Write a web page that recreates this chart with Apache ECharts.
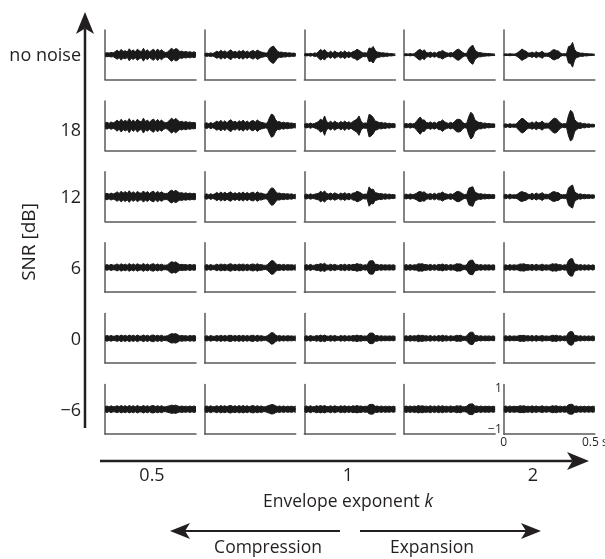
<!DOCTYPE html>
<html>
<head>
<meta charset="utf-8">
<script src="https://cdn.jsdelivr.net/npm/echarts@6/dist/echarts.min.js"></script>
<style>
  html, body { margin: 0; padding: 0; background: #fff; }
  #chart { width: 605px; height: 559px; }
</style>
</head>
<body>
<div id="chart"></div>
<script>
// time of each envelope sample (s)
const timeS = [0, 0.0111, 0.0222, 0.0333, 0.0444, 0.0556, 0.0667, 0.0778, 0.0889, 0.1,
  0.1111, 0.1222, 0.1333, 0.1444, 0.1556, 0.1667, 0.1778, 0.1889, 0.2, 0.2111,
  0.2222, 0.2333, 0.2444, 0.2556, 0.2667, 0.2778, 0.2889, 0.3, 0.3111, 0.3222,
  0.3333, 0.3444, 0.3556, 0.3667, 0.3778, 0.3889, 0.4, 0.4111, 0.4222, 0.4333,
  0.4444, 0.4556, 0.4667, 0.4778, 0.4889, 0.5];

const snrLabels = ['no noise', '18', '12', '6', '0', '\u22126'];
const kLabels = ['0.5', '1', '2'];

// waveform envelope (peak amplitude x 0.01), drawn as +/- band
// one row per SNR, one list per exponent k (0.5 ... 2)
const ampNoNoise = [
  [7, 10, 8, 11, 9, 15, 22, 14, 26, 16, 20, 13, 29, 17, 23, 14, 27, 19, 15, 31, 16, 24, 13, 21, 27, 15, 28, 17, 24, 15, 11, 13, 24, 32, 22, 30, 26, 15, 18, 13, 16, 12, 15, 11, 14, 10],
  [5, 8, 6, 9, 6, 11, 17, 12, 22, 13, 19, 11, 18, 24, 12, 17, 11, 20, 13, 22, 12, 18, 11, 17, 21, 13, 23, 17, 13, 11, 8, 9, 28, 38, 42, 30, 17, 12, 13, 10, 11, 8, 10, 7, 8, 6],
  [3, 6, 4, 7, 4, 9, 7, 16, 26, 18, 25, 13, 10, 17, 9, 18, 11, 9, 16, 10, 19, 9, 14, 8, 16, 18, 27, 21, 15, 8, 10, 7, 33, 30, 40, 22, 13, 12, 9, 10, 7, 8, 5, 6, 4, 4],
  [3, 5, 2, 6, 3, 5, 13, 22, 26, 17, 24, 11, 9, 13, 7, 12, 7, 14, 15, 21, 14, 10, 7, 11, 8, 16, 24, 27, 19, 11, 6, 7, 28, 40, 46, 24, 15, 10, 10, 7, 7, 5, 6, 4, 4, 3],
  [2, 4, 2, 5, 3, 2, 5, 11, 19, 28, 21, 17, 9, 8, 13, 7, 15, 9, 11, 17, 8, 7, 8, 13, 22, 25, 20, 18, 9, 4, 5, 4, 40, 42, 60, 26, 13, 11, 7, 8, 5, 6, 4, 4, 3, 3],
];
const amp18 = [
  [12, 17, 11, 18, 13, 18, 27, 17, 31, 19, 26, 19, 34, 18, 28, 17, 31, 22, 18, 36, 20, 27, 17, 26, 32, 19, 30, 20, 27, 18, 14, 17, 28, 36, 27, 35, 26, 18, 21, 16, 20, 15, 18, 14, 16, 12],
  [10, 14, 9, 15, 10, 15, 22, 16, 26, 15, 24, 14, 23, 29, 16, 22, 14, 24, 17, 27, 15, 23, 14, 22, 25, 16, 28, 20, 16, 14, 11, 13, 38, 56, 51, 30, 18, 20, 14, 17, 13, 15, 12, 13, 10, 11],
  [7, 11, 8, 13, 8, 11, 15, 20, 32, 24, 47, 19, 14, 21, 13, 22, 15, 12, 20, 14, 23, 13, 19, 12, 20, 26, 32, 47, 22, 11, 13, 12, 55, 50, 40, 22, 20, 14, 16, 12, 14, 10, 12, 9, 10, 8],
  [7, 11, 7, 12, 8, 10, 19, 32, 42, 27, 28, 15, 13, 18, 12, 17, 11, 19, 20, 28, 19, 14, 11, 16, 12, 20, 30, 31, 28, 15, 10, 12, 44, 65, 55, 28, 21, 15, 16, 11, 13, 9, 11, 8, 9, 7],
  [6, 9, 5, 10, 6, 8, 7, 17, 28, 36, 31, 21, 13, 12, 18, 11, 20, 13, 15, 22, 12, 12, 11, 19, 30, 36, 34, 23, 13, 8, 10, 8, 50, 75, 65, 30, 19, 13, 14, 9, 11, 7, 9, 6, 7, 5],
];
const amp12 = [
  [12, 16, 11, 17, 12, 16, 23, 15, 26, 17, 24, 16, 28, 16, 23, 15, 25, 18, 16, 27, 17, 24, 15, 22, 26, 16, 25, 17, 23, 16, 14, 16, 26, 31, 24, 30, 23, 17, 19, 15, 18, 14, 17, 13, 16, 12],
  [9, 13, 8, 14, 9, 13, 20, 13, 22, 14, 21, 13, 19, 23, 13, 19, 12, 20, 14, 22, 13, 20, 13, 19, 21, 14, 23, 16, 17, 13, 11, 13, 30, 42, 40, 26, 16, 17, 13, 15, 12, 14, 11, 13, 9, 11],
  [8, 12, 8, 13, 9, 11, 14, 16, 26, 19, 27, 15, 12, 17, 11, 18, 13, 10, 17, 12, 19, 11, 16, 10, 17, 18, 26, 22, 17, 10, 12, 11, 47, 34, 36, 19, 17, 13, 15, 11, 13, 10, 12, 9, 10, 8],
  [8, 12, 8, 13, 9, 11, 15, 22, 25, 20, 23, 13, 11, 15, 10, 16, 10, 16, 16, 22, 15, 12, 10, 14, 10, 17, 24, 25, 20, 13, 9, 11, 40, 45, 47, 22, 17, 12, 14, 10, 12, 9, 11, 8, 10, 7],
  [7, 11, 6, 12, 7, 9, 8, 13, 21, 24, 20, 18, 11, 10, 16, 9, 17, 11, 13, 19, 11, 11, 10, 15, 22, 24, 20, 19, 11, 8, 10, 8, 42, 50, 56, 24, 16, 11, 13, 9, 11, 8, 10, 7, 9, 6],
];
const amp6 = [
  [10, 14, 10, 15, 11, 12, 17, 11, 18, 12, 16, 11, 19, 12, 17, 11, 18, 13, 12, 19, 12, 17, 11, 16, 18, 12, 17, 12, 16, 11, 11, 13, 22, 28, 24, 27, 20, 13, 15, 13, 14, 11, 15, 11, 14, 11],
  [10, 14, 10, 14, 10, 11, 16, 11, 17, 12, 16, 11, 16, 18, 11, 16, 11, 17, 12, 17, 11, 16, 11, 15, 17, 12, 18, 13, 14, 11, 10, 13, 24, 33, 32, 20, 13, 15, 11, 15, 11, 14, 12, 13, 11, 13],
  [10, 14, 10, 15, 10, 11, 15, 14, 19, 15, 20, 12, 11, 16, 11, 15, 11, 10, 15, 11, 16, 10, 15, 11, 15, 14, 19, 15, 16, 10, 13, 11, 30, 33, 32, 15, 15, 11, 14, 11, 13, 11, 13, 11, 13, 10],
  [10, 14, 10, 14, 10, 13, 12, 18, 17, 18, 14, 14, 11, 15, 10, 14, 10, 15, 13, 17, 12, 14, 10, 14, 11, 13, 18, 17, 17, 11, 10, 13, 30, 35, 35, 16, 15, 11, 14, 10, 13, 11, 13, 10, 13, 10],
  [10, 13, 9, 14, 10, 13, 11, 12, 17, 16, 18, 13, 14, 11, 15, 10, 15, 11, 12, 16, 11, 13, 11, 13, 18, 16, 18, 13, 14, 10, 13, 11, 34, 42, 42, 17, 15, 11, 14, 10, 13, 10, 13, 9, 13, 9],
];
const amp0 = [
  [10, 14, 10, 14, 10, 11, 15, 10, 16, 11, 15, 10, 16, 11, 15, 10, 16, 11, 11, 16, 11, 15, 10, 15, 16, 11, 15, 11, 15, 10, 11, 13, 19, 23, 21, 23, 18, 12, 14, 12, 13, 10, 14, 11, 14, 10],
  [9, 13, 9, 14, 10, 10, 14, 10, 15, 10, 14, 10, 14, 15, 10, 14, 10, 15, 10, 15, 10, 14, 10, 14, 15, 10, 15, 11, 13, 10, 9, 13, 20, 28, 26, 17, 11, 14, 10, 13, 10, 13, 11, 12, 10, 12],
  [9, 13, 9, 14, 10, 10, 14, 11, 16, 12, 16, 11, 10, 14, 10, 14, 10, 9, 14, 10, 14, 9, 13, 10, 14, 12, 16, 12, 14, 10, 12, 10, 24, 26, 25, 13, 14, 10, 13, 10, 12, 10, 12, 10, 12, 9],
  [9, 13, 9, 14, 10, 13, 11, 16, 13, 15, 12, 13, 10, 14, 9, 13, 9, 14, 11, 15, 11, 13, 9, 13, 10, 11, 15, 13, 15, 10, 9, 12, 25, 30, 30, 14, 14, 10, 13, 9, 12, 10, 12, 9, 12, 9],
  [9, 13, 9, 13, 9, 12, 10, 11, 15, 13, 15, 11, 13, 10, 14, 9, 14, 10, 11, 14, 10, 12, 10, 11, 15, 13, 15, 11, 13, 9, 12, 10, 28, 33, 32, 14, 14, 10, 13, 9, 12, 9, 12, 9, 12, 9],
];
const ampMinus6 = [
  [12, 16, 11, 17, 12, 13, 17, 12, 18, 13, 17, 12, 18, 13, 17, 12, 18, 13, 13, 18, 13, 17, 12, 17, 18, 13, 17, 13, 17, 12, 12, 15, 17, 20, 18, 20, 16, 13, 16, 13, 15, 12, 16, 12, 16, 12],
  [12, 16, 12, 17, 12, 13, 17, 12, 18, 13, 17, 12, 17, 18, 13, 17, 12, 18, 13, 18, 13, 17, 12, 16, 18, 13, 17, 13, 16, 12, 12, 16, 19, 23, 22, 17, 13, 16, 12, 16, 12, 15, 13, 15, 12, 15],
  [12, 16, 12, 17, 12, 13, 17, 14, 18, 14, 18, 13, 13, 17, 12, 17, 13, 12, 17, 13, 17, 12, 16, 12, 17, 14, 18, 14, 16, 12, 15, 13, 22, 24, 23, 14, 16, 12, 16, 12, 15, 13, 15, 12, 15, 12],
  [12, 16, 12, 16, 12, 16, 13, 18, 15, 17, 14, 15, 13, 17, 12, 16, 12, 17, 13, 17, 13, 15, 12, 16, 13, 13, 17, 15, 17, 12, 12, 15, 24, 26, 26, 15, 16, 12, 16, 12, 15, 13, 15, 12, 15, 12],
  [12, 16, 11, 16, 12, 15, 13, 13, 17, 15, 17, 13, 15, 12, 17, 12, 16, 12, 13, 17, 12, 15, 12, 13, 17, 15, 17, 13, 15, 12, 15, 13, 22, 24, 24, 14, 16, 12, 15, 12, 15, 12, 15, 12, 15, 12],
];

const rows = [ampNoNoise, amp18, amp12, amp6, amp0, ampMinus6];

const textColor = '#231f20';
const axisColor = '#5a5a5a';
const waveColor = '#1a1a1a';
const font = "'Open Sans', sans-serif";

const chart = echarts.init(document.getElementById('chart'), null, { renderer: 'canvas' });

const grid = [];
const xAxis = [];
const yAxis = [];
const series = [];

// half of the band; areas overlap a little at 0 so no seam shows
function waveSeries(idx, data, origin) {
  return {
    type: 'line',
    xAxisIndex: idx,
    yAxisIndex: idx,
    symbol: 'none',
    silent: true,
    data,
    lineStyle: { color: waveColor, width: 1, join: 'miter' },
    areaStyle: { origin, color: waveColor, opacity: 1 },
  };
}

rows.forEach((row, r) => {
  row.forEach((amp, c) => {
    const idx = r * 5 + c;
    const last = r === rows.length - 1 && c === row.length - 1;
    grid.push({
      left: 105 + c * 99.7,
      top: 30 + r * 70.9,
      width: 91,
      height: 49.5,
      containLabel: false,
      outerBoundsMode: 'none',
    });
    xAxis.push({
      type: 'value',
      gridIndex: idx,
      min: 0,
      max: 0.5,
      axisLine: { onZero: false, lineStyle: { color: axisColor, width: 1.5 } },
      axisTick: { show: false },
      splitLine: { show: false },
      axisLabel: {
        show: last,
        customValues: [0, 0.5],
        formatter: (v) => (v === 0 ? '0' : '0.5 s'),
        margin: 3,
        color: textColor,
        fontFamily: font,
        fontSize: 12,
        showMinLabel: true,
        showMaxLabel: true,
      },
    });
    yAxis.push({
      type: 'value',
      gridIndex: idx,
      min: -1.2,
      max: 1.2,
      axisLine: { show: true, onZero: false, lineStyle: { color: axisColor, width: 1.5 } },
      axisTick: { show: false },
      splitLine: { show: false },
      axisLabel: {
        show: last,
        customValues: [-1, 1],
        formatter: (v) => (v > 0 ? '1' : '\u22121'),
        margin: 2,
        color: textColor,
        fontFamily: font,
        fontSize: 12,
      },
    });
    series.push(waveSeries(idx, timeS.map((t, i) => [t, amp[i] / 100]), -0.05));
    series.push(waveSeries(idx, timeS.map((t, i) => [t, -amp[i] / 100]), 0.05));
  });
});

// arrow helper: shaft plus notched head
function arrow(x1, y1, x2, y2, w, len, half) {
  const dx = x2 - x1;
  const dy = y2 - y1;
  const d = Math.sqrt(dx * dx + dy * dy);
  const ux = dx / d;
  const uy = dy / d;
  const px = -uy;
  const py = ux;
  const bx = x2 - ux * len;
  const by = y2 - uy * len;
  const nx = x2 - ux * len * 0.75;
  const ny = y2 - uy * len * 0.75;
  return [
    {
      type: 'line',
      shape: { x1, y1, x2: nx, y2: ny },
      style: { stroke: textColor, lineWidth: w },
    },
    {
      type: 'polygon',
      shape: {
        points: [[x2, y2], [bx + px * half, by + py * half], [nx, ny], [bx - px * half, by - py * half]],
      },
      style: { fill: textColor },
    },
  ];
}

const graphic = [];
graphic.push(...arrow(85, 428, 85, 12, 2.5, 22, 9));
graphic.push(...arrow(100, 461, 589, 461, 2.5, 22, 9));
graphic.push(...arrow(340, 531, 170, 531, 2, 20, 8));
graphic.push(...arrow(360, 531, 541, 531, 2, 20, 8));

snrLabels.forEach((s, r) => {
  graphic.push({
    type: 'text',
    x: 81,
    y: 30 + r * 70.9 + 26 + (r === 1 ? 4 : 0),
    style: {
      text: s, fill: textColor, font: '18px ' + font, align: 'right', verticalAlign: 'middle',
    },
  });
});

const kX = [152, 348, 533];
kLabels.forEach((s, i) => {
  graphic.push({
    type: 'text',
    x: kX[i],
    y: 476,
    style: {
      text: s, fill: textColor, font: '18px ' + font, align: 'center', verticalAlign: 'middle',
    },
  });
});

graphic.push({
  type: 'text',
  x: 30,
  y: 242,
  rotation: Math.PI / 2,
  style: {
    text: 'SNR [dB]', fill: textColor, font: '19px ' + font, align: 'center', verticalAlign: 'middle',
  },
});
graphic.push({
  type: 'text',
  x: 348,
  y: 502,
  style: {
    text: '{n|Envelope exponent }{i|k}',
    align: 'center',
    verticalAlign: 'middle',
    rich: {
      n: { fill: textColor, fontSize: 17.5, fontFamily: font },
      i: { fill: textColor, fontSize: 17.5, fontFamily: font, fontStyle: 'italic' },
    },
  },
});
graphic.push({
  type: 'text',
  x: 268,
  y: 548,
  style: {
    text: 'Compression', fill: textColor, font: '17.5px ' + font, align: 'center', verticalAlign: 'middle',
  },
});
graphic.push({
  type: 'text',
  x: 432,
  y: 548,
  style: {
    text: 'Expansion', fill: textColor, font: '17.5px ' + font, align: 'center', verticalAlign: 'middle',
  },
});

chart.setOption({
  animation: false,
  backgroundColor: '#fff',
  grid,
  xAxis,
  yAxis,
  series,
  graphic,
});
</script>
</body>
</html>
